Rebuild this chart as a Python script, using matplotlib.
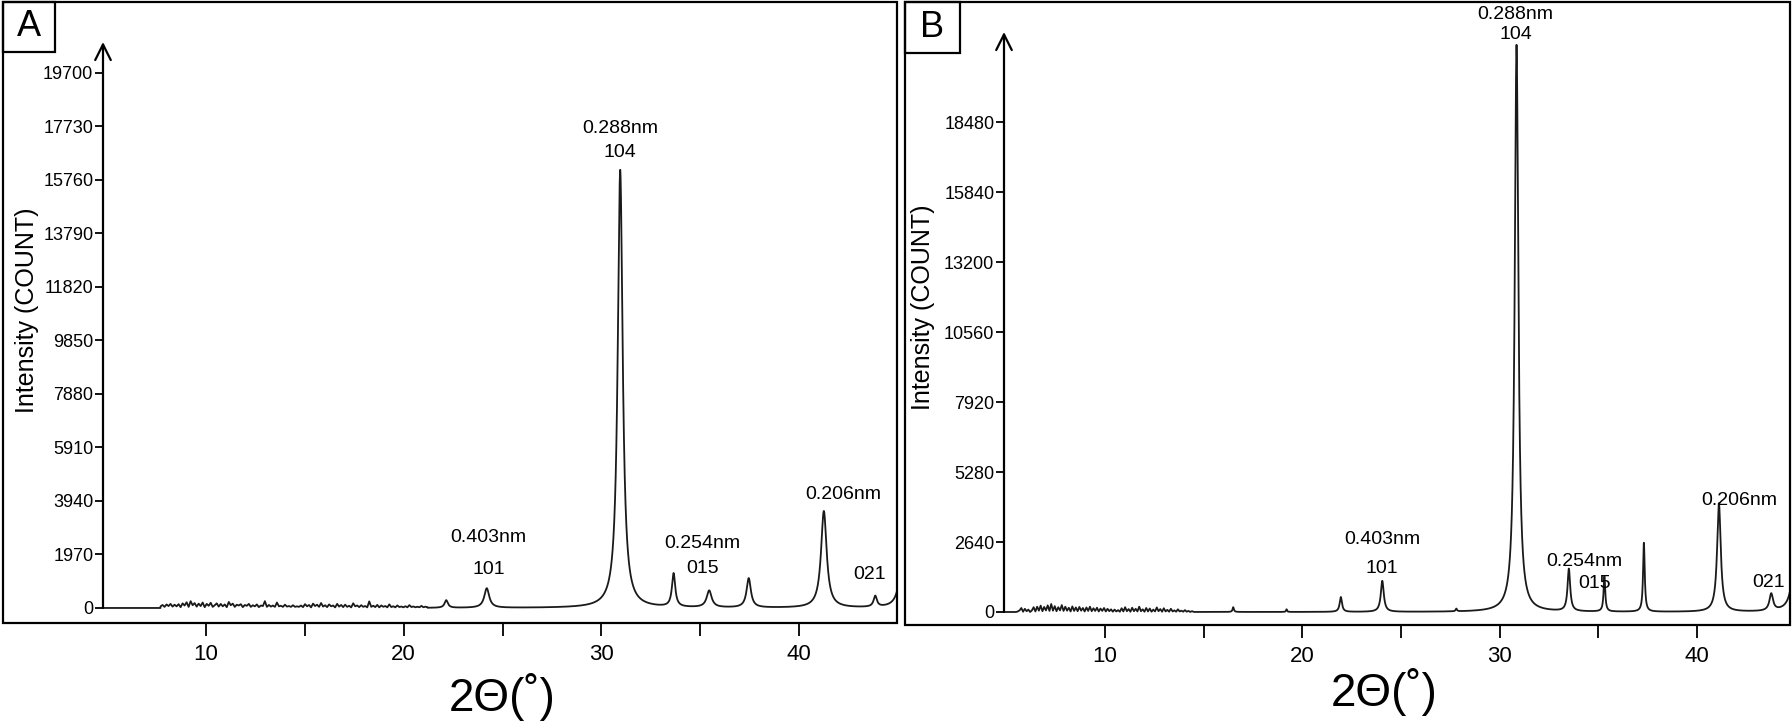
import matplotlib
matplotlib.use("Agg")
import matplotlib.pyplot as plt
from matplotlib.patches import Rectangle
import numpy as np

plt.rcParams["font.family"] = "Liberation Sans"

W, H = 1792, 726

# ---- data ----
# peaks: position (deg), height (count), half width (deg)
a_pos = [22.15, 24.2, 30.95, 33.65, 35.45, 37.45, 41.25, 43.85, 45.25]
a_height = [280, 720, 16130, 1230, 620, 1080, 3560, 400, 2000]
a_width = [0.10, 0.15, 0.15, 0.10, 0.15, 0.13, 0.17, 0.10, 0.20]
a_noise_start, a_noise_end = 7.7, 21.2
a_noise = [60, 110, 40, 130, 70, 150, 50, 120, 60, 140, 30, 170, 90, 210, 40, 250, 100, 180,
           50, 160, 70, 200, 30, 150, 80, 190, 40, 100, 170, 50, 150, 60, 130, 30, 220, 100,
           160, 40, 120, 90, 140, 30, 110, 80, 150, 40, 100, 60, 130, 30, 90, 70, 250, 40,
           110, 50, 90, 40, 200, 60, 80, 40, 120, 50, 70, 40, 100, 40, 60, 40,
           90, 30, 140, 60, 110, 20, 160, 70, 120, 40, 180, 50, 100, 30, 130, 60, 90, 20,
           150, 50, 110, 30, 120, 40, 80, 20, 170, 60, 90, 30, 100, 40, 70, 20, 240, 40,
           80, 30, 110, 20, 90, 40, 70, 20, 130, 30, 60, 20, 90, 30, 50, 20, 60, 20,
           100, 30, 50, 20, 40, 20, 70, 20, 40, 20]

b_pos = [16.5, 19.2, 21.95, 24.05, 27.8, 30.85, 33.5, 35.3, 37.3, 41.1, 43.75, 45.0]
b_height = [180, 100, 560, 1170, 100, 21400, 1600, 1330, 2600, 4100, 640, 2500]
b_width = [0.04, 0.03, 0.07, 0.09, 0.04, 0.11, 0.08, 0.05, 0.05, 0.11, 0.11, 0.20]
b_noise_start, b_noise_end = 5.5, 14.5
b_noise = [0, 20, 60, 150, 10, 120, 30, 90, 0, 60, 180, 20, 200, 50, 240, 30, 190, 60,
           250, 40, 300, 50, 220, 30, 180, 60, 260, 40, 200, 50, 160, 20, 210, 40, 170,
           30, 190, 50, 150, 20, 170, 40, 200, 30, 140, 40, 160, 20, 130, 40, 150, 20,
           120, 30, 100, 10, 90, 20, 70, 10,
           140, 20, 180, 30, 110, 10, 160, 30, 120, 20, 200, 30, 100, 10, 150, 20,
           130, 10, 90, 20, 170, 30, 110, 10, 140, 20, 80, 10, 120, 20, 60, 10,
           100, 20, 50, 10, 70, 10, 40, 0, 30, 0]

a_ticks = [0, 1970, 3940, 5910, 7880, 9850, 11820, 13790, 15760, 17730, 19700]
b_ticks = [0, 2640, 5280, 7920, 10560, 13200, 15840, 18480]
x_ticks = [10, 15, 20, 25, 30, 35, 40]
x_labels = ["10", "", "20", "", "30", "", "40"]

a_notes = [("0.288nm", 30.95, 17660), ("104", 30.95, 16770), ("0.403nm", 24.3, 2580),
           ("101", 24.3, 1420), ("0.254nm", 35.1, 2370), ("015", 35.1, 1440),
           ("0.206nm", 42.25, 4180), ("021", 43.55, 1230)]
b_notes = [("0.288nm", 30.8, 22540), ("104", 30.8, 21790), ("0.403nm", 24.05, 2730),
           ("101", 24.05, 1630), ("0.254nm", 34.3, 1920), ("015", 34.8, 1080),
           ("0.206nm", 42.15, 4190), ("021", 43.6, 1120)]


def pattern(pos, height, width, n_start, n_end, noise, x0, x1):
    xn = np.linspace(n_start, n_end, len(noise))
    xg = np.linspace(x0, x1, 6000)
    x = np.concatenate([xg[xg < n_start], xn, xg[xg > n_end]])
    y = np.zeros_like(x)
    for p, h, w in zip(pos, height, width):
        y += h / (1 + ((x - p) / w) ** 2)
    mask = (x >= n_start) & (x <= n_end)
    y[mask] += np.array(noise)
    return x, y


fig = plt.figure(figsize=(W / 100, H / 100), dpi=100)


def fx(px):
    return px / W


def fy(py):
    return 1 - py / H


def panel(letter, box, label_box, ax_px, xlim, y0_px, px_per_k, arrow_px, ticks,
          data, notes, ylab_pos, xlab_pos):
    bx0, by0, bx1, by1 = box
    fig.add_artist(Rectangle((fx(bx0), fy(by1)), fx(bx1 - bx0), (by1 - by0) / H,
                             transform=fig.transFigure, fill=False, lw=1.6, color="black"))
    lx0, ly0, lx1, ly1 = label_box
    fig.add_artist(Rectangle((fx(lx0), fy(ly1)), fx(lx1 - lx0), (ly1 - ly0) / H,
                             transform=fig.transFigure, fill=False, lw=1.6, color="black"))
    fig.text(fx((lx0 + lx1) / 2), fy((ly0 + ly1) / 2), letter, ha="center", va="center",
             fontsize=26)
    left, right = ax_px
    ax = fig.add_axes([fx(left), fy(by1), fx(right - left), (by1 - by0) / H])
    ylo = -(by1 - y0_px) / px_per_k * 1000
    yhi = (y0_px - by0) / px_per_k * 1000
    ax.set_xlim(*xlim)
    ax.set_ylim(ylo, yhi)
    ax.patch.set_alpha(0)
    for s in ax.spines.values():
        s.set_visible(False)
    x, y = data
    ax.plot(x, y, color="#1a1a1a", lw=1.3, clip_on=True)
    ytop = (y0_px - arrow_px) / px_per_k * 1000
    ax.annotate("", xy=(xlim[0], ytop), xytext=(xlim[0], 0),
                arrowprops=dict(arrowstyle="->", lw=1.6, color="black",
                                mutation_scale=28, shrinkA=0, shrinkB=0))
    ax.set_yticks(ticks)
    ax.set_yticklabels([str(t) for t in ticks])
    ax.tick_params(axis="y", direction="out", length=6, width=1.3, labelsize=13, pad=1)
    ax.set_xticks(x_ticks)
    ax.set_xticklabels(x_labels)
    ax.tick_params(axis="x", direction="out", length=9, width=1.3, labelsize=16, pad=6)
    for text, tx, ty in notes:
        ax.text(tx, ty, text, ha="center", va="center", fontsize=14)
    fig.text(fx(ylab_pos[0]), fy(ylab_pos[1]), "Intensity (COUNT)", rotation=90,
             ha="center", va="center", fontsize=18)
    fig.text(fx(xlab_pos[0]), fy(xlab_pos[1]), "2\u0398(\u02da)", ha="center",
             va="center", fontsize=33)
    return ax


data_a = pattern(a_pos, a_height, a_width, a_noise_start, a_noise_end, a_noise, 4.8, 45.2)
data_b = pattern(b_pos, b_height, b_width, b_noise_start, b_noise_end, b_noise, 4.9, 45.0)

panel("A", (3, 2, 897, 623), (3, 2, 55, 52), (103, 897), (4.79, 44.95), 608, 27.16, 42,
      a_ticks, data_a, a_notes, (27, 310), (502, 697))
panel("B", (905, 2, 1790, 625), (905, 2, 960, 53), (1004, 1790), (4.89, 44.7), 612, 26.5, 32,
      b_ticks, data_b, b_notes, (923, 307), (1384, 692))

fig.savefig("out.png", dpi=100)
